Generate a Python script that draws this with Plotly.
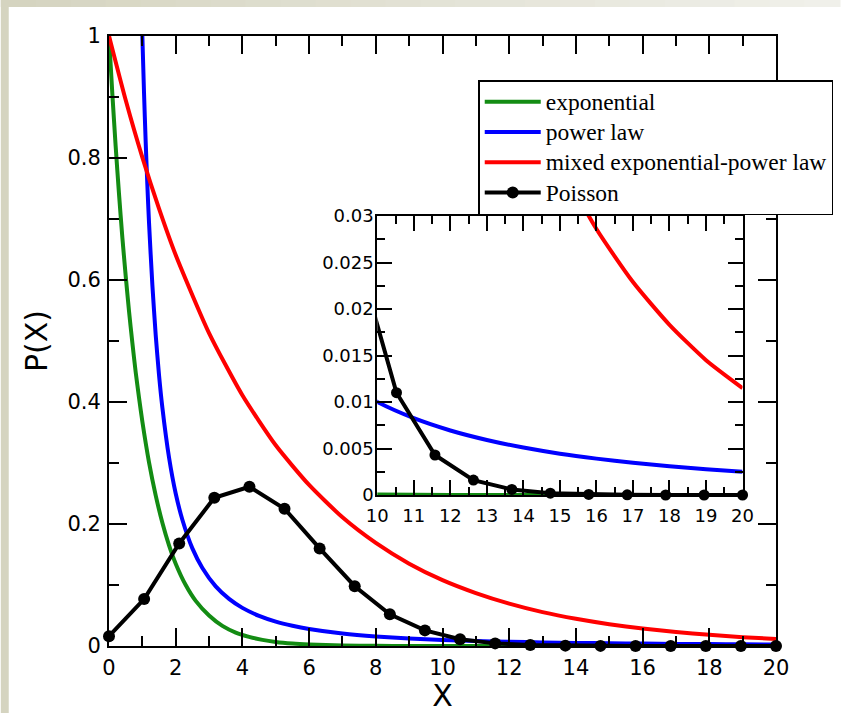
import plotly.graph_objects as go

# ---------------- data ----------------
exp_x = [0, 0.1, 0.2, 0.3, 0.4, 0.5, 0.6, 0.7, 0.8, 0.9, 1.0, 1.2, 1.4, 1.6, 1.8, 2.0,
         2.3, 2.6, 3.0, 3.4, 3.8, 4.2, 4.6, 5.0, 5.5, 6, 6.5, 7, 8, 9, 10, 12, 14, 16, 18, 20]
exp_y = [1.0, 0.905, 0.819, 0.741, 0.670, 0.607, 0.549, 0.497, 0.449, 0.407, 0.368, 0.301,
         0.247, 0.202, 0.165, 0.135, 0.100, 0.074, 0.050, 0.033, 0.022, 0.015, 0.010, 0.0067,
         0.0041, 0.0025, 0.0015, 0.0009, 0.0003, 0.0001, 0.00005, 0, 0, 0, 0, 0]

pow_x = [1, 1.05, 1.1, 1.15, 1.2, 1.3, 1.4, 1.5, 1.6, 1.8, 2.0, 2.2, 2.5, 2.8, 3.2, 3.6, 4,
         4.5, 5, 5.5, 6, 7, 8, 9, 10, 11, 12, 13, 14, 15, 16, 17, 18, 19, 20]
pow_y = [1.0, 0.907, 0.826, 0.756, 0.694, 0.592, 0.510, 0.444, 0.391, 0.309, 0.250, 0.207,
         0.160, 0.128, 0.0977, 0.0772, 0.0625, 0.0494, 0.040, 0.0331, 0.0278, 0.0204, 0.0156,
         0.0123, 0.0100, 0.00826, 0.00694, 0.00592, 0.00510, 0.00444, 0.00391, 0.00346,
         0.00309, 0.00277, 0.00250]

mix_x = [0, 0.5, 1, 1.5, 2, 3, 4, 5, 6, 7, 8, 9, 10, 11, 12, 13, 14, 15, 16, 17, 18, 19, 20]
mix_y = [1.0, 0.895, 0.801, 0.717, 0.641, 0.513, 0.411, 0.329, 0.264, 0.211, 0.169, 0.135,
         0.108, 0.0868, 0.0695, 0.0556, 0.0446, 0.0357, 0.0286, 0.0229, 0.0183, 0.0145, 0.0115]

poi_x = [0, 1.053, 2.105, 3.158, 4.211, 5.263, 6.316, 7.368, 8.421, 9.474, 10.526, 11.579,
         12.632, 13.684, 14.737, 15.789, 16.842, 17.895, 18.947, 20.0]
poi_y = [0.016, 0.077, 0.168, 0.243, 0.261, 0.225, 0.160, 0.098, 0.052, 0.0256, 0.011, 0.0043,
         0.0016, 0.0006, 0.0002, 0.00006, 0.00002, 0, 0, 0]

names = ["exponential", "power law", "mixed exponential-power law", "Poisson"]
colors = ["#138c13", "#0000ff", "#ff0000", "#000000"]

# ---------------- figure ----------------
W, H = 845, 713
L, R, T, B = 109, 64, 36, 67
PW, PH = W - L - R, H - T - B


def px2x(px):
    return (px - L) / PW


def py2y(py):
    return (H - B - py) / PH


def legend_label(s):
    return "<span style='font-size:23.5px'>%s</span>" % s


fig = go.Figure()

curves = [(exp_x, exp_y), (pow_x, pow_y), (mix_x, mix_y)]
for (cx, cy), nm, col in zip(curves, names[:3], colors[:3]):
    fig.add_trace(go.Scatter(x=cx, y=cy, mode="lines", name=legend_label(nm),
                             line=dict(color=col, width=4, shape="spline", smoothing=0.6),
                             xaxis="x", yaxis="y"))
fig.add_trace(go.Scatter(x=poi_x, y=poi_y, mode="lines+markers", name=legend_label(names[3]),
                         line=dict(color="black", width=4),
                         marker=dict(color="black", size=12),
                         cliponaxis=False, xaxis="x", yaxis="y"))

# inset
for (cx, cy), col in zip(curves, colors[:3]):
    fig.add_trace(go.Scatter(x=cx, y=cy, mode="lines", showlegend=False,
                             line=dict(color=col, width=4, shape="spline", smoothing=0.6),
                             xaxis="x2", yaxis="y2"))
fig.add_trace(go.Scatter(x=poi_x, y=poi_y, mode="lines", showlegend=False,
                         line=dict(color="black", width=4), xaxis="x2", yaxis="y2"))
ins_px = [v for v in poi_x if v >= 10]
ins_py = [poi_y[i] for i, v in enumerate(poi_x) if v >= 10]
fig.add_trace(go.Scatter(x=ins_px, y=ins_py, mode="markers", showlegend=False,
                         marker=dict(color="black", size=11), cliponaxis=False,
                         xaxis="x2", yaxis="y2"))

tickfont_main = dict(family="DejaVu Sans", size=21, color="black")
tickfont_ins = dict(family="DejaVu Sans", size=18, color="black")

common_main = dict(showline=True, linecolor="black", linewidth=2, mirror="ticks",
                   ticks="inside", ticklen=18, tickwidth=1.5, tickcolor="black",
                   showgrid=False, zeroline=False, tickfont=tickfont_main, automargin=False)
common_ins = dict(showline=True, linecolor="black", linewidth=2, mirror="ticks",
                  ticks="inside", ticklen=15, tickwidth=1.5, tickcolor="black",
                  showgrid=False, zeroline=False, tickfont=tickfont_ins, automargin=False)

fig.update_layout(
    width=W, height=H, autosize=False,
    margin=dict(l=L, r=R, t=T, b=B),
    paper_bgcolor="white", plot_bgcolor="white",
    xaxis=dict(range=[0, 20], tick0=0, dtick=2, ticklabelstandoff=2,
               minor=dict(ticks="inside", dtick=1, ticklen=10, tickwidth=1.5, tickcolor="black"),
               title=dict(text="X", font=dict(family="DejaVu Sans", size=30, color="black"),
                          standoff=16),
               domain=[0, 1], **common_main),
    yaxis=dict(range=[0, 1], tick0=0, dtick=0.2, ticklabelstandoff=2,
               minor=dict(ticks="inside", dtick=0.1, ticklen=10, tickwidth=1.5, tickcolor="black"),
               title=dict(text="P(X)", font=dict(family="DejaVu Sans", size=30, color="black"),
                          standoff=11),
               domain=[0, 1], **common_main),
    xaxis2=dict(range=[10, 20], tick0=10, dtick=1, anchor="y2", ticklabelstandoff=3,
                minor=dict(ticks="inside", dtick=0.5, ticklen=8, tickwidth=1.5, tickcolor="black"),
                domain=[px2x(379.3), px2x(747.3)], **common_ins),
    yaxis2=dict(range=[0, 0.03], tick0=0, dtick=0.005, anchor="x2", ticklabelstandoff=-2,
                minor=dict(ticks="inside", dtick=0.0025, ticklen=8, tickwidth=1.5, tickcolor="black"),
                domain=[py2y(495), py2y(216)], **common_ins),
    legend=dict(x=px2x(481), y=py2y(80), xanchor="left", yanchor="top",
                bgcolor="white", bordercolor="black", borderwidth=1.5,
                font=dict(family="Liberation Serif", size=21, color="black"),
                itemwidth=56, tracegroupgap=0),
    showlegend=True,
)

# page background bands (beige gradient at top, beige strip at left)
shapes = []
c0 = (213, 212, 192)
c1 = (240, 240, 234)
n = 24
for i in range(n):
    t = i / (n - 1)
    col = "rgb(%d,%d,%d)" % tuple(round(a + (b - a) * t) for a, b in zip(c0, c1))
    shapes.append(dict(type="rect", xref="paper", yref="paper", layer="below",
                       x0=px2x(W * i / n), x1=px2x(W * (i + 1) / n + 1),
                       y0=py2y(7), y1=py2y(0), line=dict(width=0), fillcolor=col))
shapes.append(dict(type="rect", xref="paper", yref="paper", layer="below",
                   x0=px2x(0), x1=px2x(8), y0=py2y(H), y1=py2y(0),
                   line=dict(width=0), fillcolor="rgb(213,212,192)"))
fig.update_layout(shapes=shapes)

fig.write_html("out.html",
               config=dict(displayModeBar=False, responsive=False),
               post_script="document.body.style.margin='0px';document.body.style.overflow='hidden';")
